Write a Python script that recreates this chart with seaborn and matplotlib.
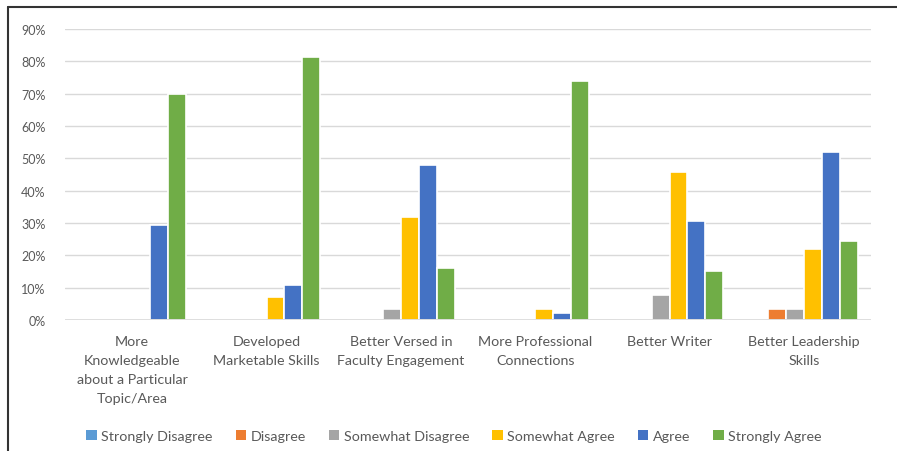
import matplotlib
matplotlib.use("Agg")
import matplotlib.pyplot as plt
from matplotlib.lines import Line2D
from matplotlib.patches import Patch
import seaborn as sns
import pandas as pd

categories = [
    "More\nKnowledgeable\nabout a Particular\nTopic/Area",
    "Developed\nMarketable Skills",
    "Better Versed in\nFaculty Engagement",
    "More Professional\nConnections",
    "Better Writer",
    "Better Leadership\nSkills",
]
responses = ["Strongly Disagree", "Disagree", "Somewhat Disagree",
             "Somewhat Agree", "Agree", "Strongly Agree"]

strongly_disagree = [0.0, 0.0, 0.0, 0.0, 0.0, 0.0]
disagree = [0.0, 0.0, 0.0, 0.0, 0.0, 3.5]
somewhat_disagree = [0.0, 0.0, 3.5, 0.0, 7.7, 3.5]
somewhat_agree = [0.0, 7.1, 31.9, 3.5, 45.9, 22.0]
agree = [29.4, 10.9, 48.0, 2.2, 30.6, 52.0]
strongly_agree = [70.0, 81.4, 16.1, 73.9, 15.2, 24.4]

colors = ["#5B9BD5", "#ED7D31", "#A5A5A5", "#FFC000", "#4472C4", "#70AD47"]
yticks = [0, 10, 20, 30, 40, 50, 60, 70, 80, 90]

series = [strongly_disagree, disagree, somewhat_disagree,
          somewhat_agree, agree, strongly_agree]
rows = []
for resp, vals in zip(responses, series):
    for cat, v in zip(categories, vals):
        rows.append({"Category": cat, "Response": resp, "Value": v})
df = pd.DataFrame(rows)

sns.set_theme(style="white")
plt.rcParams["font.family"] = ["Lato", "DejaVu Sans"]

fig = plt.figure(figsize=(8.97, 4.52), dpi=100)
ax = fig.add_axes([65 / 897, (452 - 321) / 452, (871 - 65) / 897, (321 - 30) / 452])

sns.barplot(data=df, x="Category", y="Value", hue="Response",
            order=categories, hue_order=responses, palette=colors,
            saturation=1, width=0.8, edgecolor="white", linewidth=1.2,
            ax=ax, legend=False, zorder=3)

ax.set_ylim(0, 90)
ax.set_xlim(-0.5, 5.5)
ax.set_yticks(yticks)
ax.set_yticklabels([f"{t}%" for t in yticks], color="#595959", fontsize=9)
ax.tick_params(axis="y", length=0, pad=14)
ax.tick_params(axis="x", length=0, pad=11)
for lbl in ax.get_xticklabels():
    lbl.set_color("#595959")
    lbl.set_fontsize(10.3)
    lbl.set_linespacing(1.7)
ax.set_xlabel("")
ax.set_ylabel("")
ax.grid(axis="y", color="#D9D9D9", linewidth=1, zorder=0)
ax.set_axisbelow(True)
ax.axhline(0, color="#D9D9D9", linewidth=1.2, zorder=5)
for s in ax.spines.values():
    s.set_visible(False)

handles = [Patch(facecolor=c, edgecolor="none") for c in colors]
fig.legend(handles, responses, loc="center", ncol=6, frameon=False,
           bbox_to_anchor=(0.506, (452 - 437) / 452),
           handlelength=0.75, handleheight=0.75, handletextpad=0.3,
           columnspacing=1.6, prop={"size": 10.3},
           labelcolor="#595959")

# border lines of the original frame
fig.add_artist(Line2D([8 / 897, 8 / 897], [0, (452 - 8) / 452],
                      color="#333333", linewidth=1.5, transform=fig.transFigure))
fig.add_artist(Line2D([8 / 897, 1], [(452 - 8) / 452, (452 - 8) / 452],
                      color="#333333", linewidth=1.5, transform=fig.transFigure))

fig.savefig("out.png", dpi=100)
